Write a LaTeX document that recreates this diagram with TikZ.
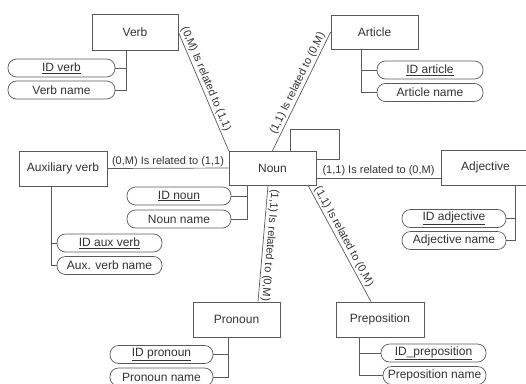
\documentclass[tikz,border=0pt]{standalone}
\usepackage{fontspec}
\setmainfont{Liberation Sans}
\definecolor{lc}{HTML}{5A5A5A}
\definecolor{tc}{HTML}{333333}
\begin{document}
\begin{tikzpicture}[x=1pt,y=-1pt,line width=0.7pt]
\tikzset{
 ent/.style={draw=lc, fill=white, minimum width=87pt, minimum height=35pt, inner sep=0pt, font=\fontsize{12}{14}\selectfont, text=tc},
 attr/.style={draw=lc, fill=white, rounded corners=8.5pt, minimum width=105pt, minimum height=18pt, inner sep=0pt, font=\fontsize{12}{14}\selectfont, text=tc},
 rel/.style={draw=lc},
 lab/.style={font=\fontsize{11}{13}\selectfont, text=tc, inner sep=1.5pt},
}
\useasboundingbox (0,0) rectangle (526,383);
% entities
\node[ent, minimum width=86pt, minimum height=36pt] (verb) at (135,32) {Verb};
\node[ent, minimum height=34pt] (article) at (374.5,32) {Article};
\node[ent, minimum width=88pt] (aux) at (63,168.5) {Auxiliary verb};
\node[ent, minimum height=34pt] (noun) at (272.5,168) {Noun};
\node[ent, minimum width=89pt] (adj) at (485.5,167.5) {Adjective};
\node[ent] (pron) at (236.5,319.5) {Pronoun};
\node[ent, minimum width=88pt] (prep) at (380,319.5) {Preposition};
% attributes
\node[attr, minimum width=107pt] (idverb) at (61.5,68) {\underline{ID verb}};
\node[attr, minimum width=107pt] (verbname) at (61.5,90) {Verb name};
\node[attr, minimum width=106pt] (idart) at (430,70) {\underline{ID article}};
\node[attr, minimum width=106pt] (artname) at (430,92.5) {Article name};
\node[attr, minimum width=104pt] (idnoun) at (179,196) {\underline{ID noun}};
\node[attr, minimum width=104pt] (nounname) at (179,219) {Noun name};
\node[attr] (idaux) at (109.5,243) {\underline{ID aux verb}};
\node[attr] (auxname) at (109.5,265.5) {Aux. verb name};
\node[attr, minimum width=104pt] (idadj) at (454,218.5) {\underline{ID adjective}};
\node[attr, minimum width=104pt] (adjname) at (454,240.5) {Adjective name};
\node[attr, minimum width=103pt] (idpron) at (161.5,354.5) {\underline{ID pronoun}};
\node[attr, minimum width=103pt] (pronname) at (161.5,377) {Pronoun name};
\node[attr] (idprep) at (433.5,353) {\underline{ID\_preposition}};
\node[attr, minimum width=103pt] (prepname) at (434.5,375.5) {Preposition name};
% attribute connectors
\coordinate (vj) at ([xshift=-9pt]verb.south);
\draw[rel] (vj) |- (verbname.east);
\draw[rel] (idverb.east) -- (idverb.east -| vj);
\coordinate (aj) at ([xshift=-13.5pt]article.south);
\draw[rel] (aj) |- (artname.west);
\draw[rel] (idart.west) -- (idart.west -| aj);
\coordinate (nj) at ([xshift=-25.5pt]noun.south);
\draw[rel] (nj) |- (nounname.east);
\draw[rel] (idnoun.east) -- (idnoun.east -| nj);
\coordinate (xj) at ([xshift=-12pt]aux.south);
\draw[rel] (xj) |- (auxname.west);
\draw[rel] (idaux.west) -- (idaux.west -| xj);
\coordinate (dj) at ([xshift=29.5pt]adj.south);
\draw[rel] (dj) |- (adjname.east);
\draw[rel] (idadj.east) -- (idadj.east -| dj);
\coordinate (pj) at ([xshift=-8.5pt]pron.south);
\draw[rel] (pj) |- (pronname.east);
\draw[rel] (idpron.east) -- (idpron.east -| pj);
\coordinate (rj) at ([xshift=-21pt]prep.south);
\draw[rel] (rj) |- (prepname.west);
\draw[rel] (idprep.west) -- (idprep.west -| rj);
% relationships
\draw[rel] (verb.east) -- (noun.north west)
  node[lab, sloped, above, pos=0.42] {(0,M) Is related to (1,1)};
\draw[rel] (noun.north) -- (article.west)
  node[lab, sloped, above, pos=0.54] {(1,1) Is related to (0,M)};
\draw[rel] (aux.east) -- (noun.west)
  node[lab, above, pos=0.5] {(0,M) Is related to (1,1)};
\draw[rel] ([yshift=-10pt]noun.east) -- ([yshift=-10pt]noun.east -| adj.west)
  node[lab, above, pos=0.5] {(1,1) Is related to (0,M)};
\draw[rel] ([xshift=-4.5pt]noun.south) -- ([xshift=21.5pt]pron.north)
  node[lab, sloped, allow upside down, above, pos=0.51] {(1,1) Is related to (0,M)};
\draw[rel] ([xshift=35.5pt]noun.south) -- ([xshift=-9pt]prep.north)
  node[lab, sloped, above, pos=0.47] {(1,1) Is related to (0,M)};
% self loop
\draw[rel] ([xshift=17.5pt]noun.north) |- ++(49,-21) |- ([yshift=9pt]noun.east);
\end{tikzpicture}
\end{document}
